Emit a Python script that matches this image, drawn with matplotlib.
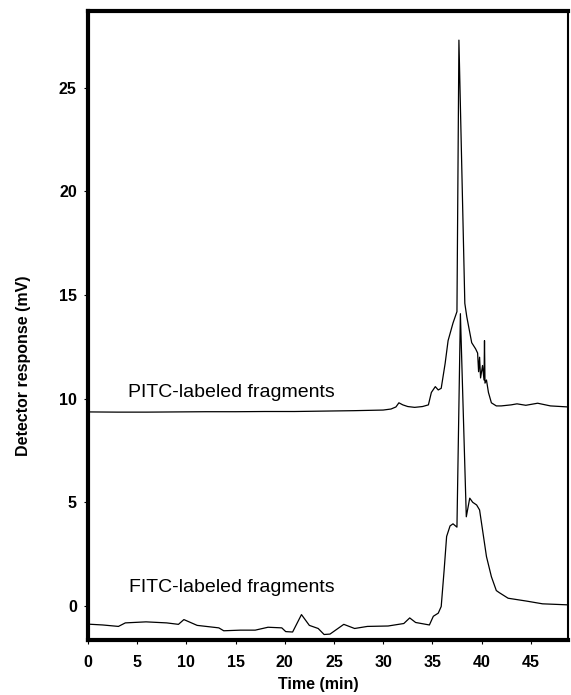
import matplotlib
matplotlib.use("Agg")
import matplotlib.pyplot as plt

plt.rcParams['font.family'] = ['Liberation Sans', 'DejaVu Sans']

# PITC-labeled fragments (upper trace)
pitc_t = [0, 3, 6, 9, 12, 15, 18, 21, 24, 27, 30, 30.8, 31.3, 31.6, 32.0,
          32.5, 33.2, 34.0, 34.6, 34.9, 35.3, 35.6, 35.9, 36.3, 36.6, 37.1,
          37.5, 37.7, 38.3, 38.5, 39.0, 39.4, 39.6, 39.7, 39.8, 39.9, 40.1,
          40.25, 40.3, 40.35, 40.5, 40.7, 41.0, 41.5, 42.0, 43.0, 43.6,
          44.5, 45.7, 47.0, 48.8]
pitc_v = [9.36, 9.35, 9.35, 9.36, 9.37, 9.37, 9.38, 9.38, 9.4, 9.42, 9.45,
          9.5, 9.6, 9.8, 9.7, 9.62, 9.58, 9.62, 9.7, 10.3, 10.58, 10.42,
          10.5, 11.7, 12.8, 13.65, 14.2, 27.3, 14.6, 13.95, 12.7, 12.4,
          12.2, 11.3, 12.0, 11.0, 11.6, 10.9, 12.8, 10.75, 10.9, 10.3, 9.8,
          9.65, 9.65, 9.7, 9.75, 9.68, 9.78, 9.65, 9.6]

# FITC-labeled fragments (lower trace)
fitc_t = [0, 1.5, 3.1, 3.8, 5.9, 8.0, 9.2, 9.75, 11.1, 13.3, 13.8, 15.5,
          17.0, 18.3, 19.7, 20.1, 20.8, 21.7, 22.5, 23.4, 24.0, 24.6, 26.0,
          27.1, 28.4, 30.5, 32.1, 32.7, 33.3, 34.7, 35.1, 35.6, 35.9, 36.2,
          36.45, 36.8, 37.1, 37.5, 37.85, 38.45, 38.8, 39.1, 39.5, 39.8,
          40.5, 41.0, 41.5, 41.8, 42.7, 44.6, 46.2, 48.8]
fitc_v = [-0.88, -0.92, -0.99, -0.82, -0.77, -0.82, -0.89, -0.66, -0.94,
          -1.06, -1.2, -1.17, -1.17, -1.03, -1.06, -1.24, -1.26, -0.42,
          -0.94, -1.09, -1.38, -1.36, -0.89, -1.09, -0.99, -0.97, -0.85,
          -0.58, -0.8, -0.92, -0.5, -0.35, -0.03, 1.74, 3.35, 3.86, 3.96,
          3.8, 14.1, 4.3, 5.2, 5.0, 4.87, 4.63, 2.38, 1.41, 0.74, 0.64,
          0.37, 0.23, 0.1, 0.05]

xticks = [0, 5, 10, 15, 20, 25, 30, 35, 40, 45]
yticks = [0, 5, 10, 15, 20, 25]

fig = plt.figure(figsize=(5.71, 6.95), dpi=100)
ax = fig.add_axes([0.154, 0.079, 0.841, 0.905])

ax.plot(pitc_t, pitc_v, color='black', lw=0.9)
ax.plot(fitc_t, fitc_v, color='black', lw=0.9)

ax.text(4.1, 10.09, 'PITC-labeled fragments', fontsize=14, ha='left', va='baseline')
ax.text(4.2, 0.65, 'FITC-labeled fragments', fontsize=14, ha='left', va='baseline')

ax.set_xlim(0, 48.8)
ax.set_ylim(-1.65, 28.7)
ax.set_xticks(xticks)
ax.set_yticks(yticks)
ax.tick_params(direction='out', length=3, width=0.8, labelsize=11.5)
ax.tick_params(axis='x', pad=8)
ax.tick_params(axis='y', pad=5)
for lab in ax.get_xticklabels() + ax.get_yticklabels():
    lab.set_fontweight('bold')

ax.set_xlabel('Time (min)', fontsize=11.5, fontweight='bold')
ax.set_ylabel('Detector response (mV)', fontsize=11.5, fontweight='bold')
ax.xaxis.set_label_coords(0.479, -0.058)
ax.yaxis.set_label_coords(-0.118, 0.436)

for side in ['left', 'top', 'bottom']:
    ax.spines[side].set_linewidth(3)
ax.spines['right'].set_linewidth(1.5)

fig.savefig('out.png', dpi=100)
